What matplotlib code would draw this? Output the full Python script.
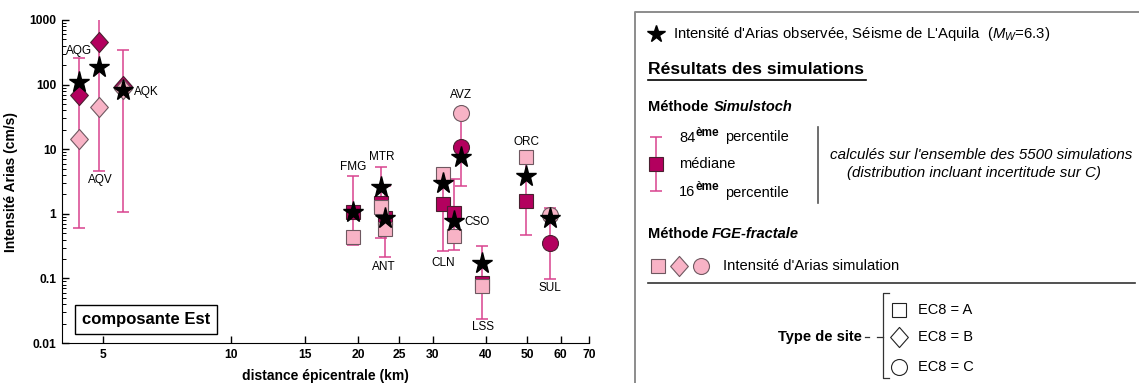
import numpy as np
import matplotlib
matplotlib.use('Agg')
import matplotlib.pyplot as plt
from matplotlib.path import Path
from matplotlib.ticker import FixedLocator, NullFormatter, NullLocator, LogLocator

plt.rcParams['font.family'] = ['Liberation Sans', 'DejaVu Sans']
plt.rcParams['mathtext.fontset'] = 'custom'
plt.rcParams['mathtext.rm'] = 'Liberation Sans'
plt.rcParams['mathtext.it'] = 'Liberation Sans:italic'
plt.rcParams['mathtext.bf'] = 'Liberation Sans:bold'

# stations of the L'Aquila event, east component
stations = ['AQG', 'AQV', 'AQK', 'FMG', 'MTR', 'ANT', 'CLN', 'CSO', 'AVZ', 'LSS', 'ORC', 'SUL']
site_class = ['B', 'B', 'B', 'A', 'A', 'A', 'A', 'A', 'C', 'A', 'A', 'C']
distance = [4.38, 4.89, 5.57, 19.4, 22.65, 23.07, 31.6, 33.6, 35.0, 39.2, 49.6, 56.6]
observed = [109, 189, 82, 1.08, 2.62, 0.85, 2.97, 0.78, 7.65, 0.175, 3.89, 0.85]
stoch_median = [69, 461, 95, 1.05, 1.46, 0.85, 1.41, 1.04, 10.7, 0.084, 1.60, 0.35]
stoch_p84 = [261, 1300, 340, 3.85, 5.36, 2.69, 4.9, 3.42, 40, 0.318, 6.5, 1.22]
stoch_p16 = [0.61, 4.6, 1.05, 0.325, 0.42, 0.217, 0.27, 0.28, 2.72, 0.0235, 0.465, 0.097]
fge_fractal = [14.4, 45.5, 86, 0.44, 1.29, 0.575, 4.1, 0.45, 36.7, 0.076, 7.5, 0.96]

x_ticks = [5, 10, 15, 20, 25, 30, 40, 50, 60, 70]
y_ticks = [0.01, 0.1, 1, 10, 100, 1000]
y_ticklabels = ['0.01', '0.1', '1', '10', '100', '1000']

# where each station name goes (anchor + offset in points)
label_anchor = ['p84', 'p16', 'obs', 'p84', 'p84', 'p16', 'p16', 'obs', 'fge', 'p16', 'fge', 'p16']
label_offset = [(0, 5), (0.9, -6.5), (17, -1.4), (0, 6.5), (0.7, 6.8), (-0.7, -7.2),
                (0.4, -9.1), (17, -0.7), (0, 12.7), (0.2, -5.8), (0.7, 10.8), (0, -6.5)]

DARK = '#B3005E'
PINK = '#F8B3C6'
BAR = '#D8428E'

diamond = Path([(0, 1), (0.88, 0), (0, -1), (-0.88, 0), (0, 1)],
               [Path.MOVETO, Path.LINETO, Path.LINETO, Path.LINETO, Path.CLOSEPOLY])
markers = {'A': ('s', 10), 'B': (diamond, 14.5), 'C': ('o', 11.5)}

fig = plt.figure(figsize=(11.39, 3.83), dpi=100)
ax = fig.add_axes([62 / 1139, 40 / 383, 527 / 1139, 323 / 383])
ax.set_xscale('log')
ax.set_yscale('log')

d = np.array(distance)
med = np.array(stoch_median)
hi = np.array(stoch_p84)
lo = np.array(stoch_p16)

ax.errorbar(d, med, yerr=[med - lo, hi - med], fmt='none', ecolor=BAR,
            elinewidth=1.1, capsize=4.5, capthick=1.1, zorder=2)
for i in range(len(stations)):
    m, ms = markers[site_class[i]]
    ax.plot(d[i], med[i], marker=m, ms=ms, mfc=DARK, mec='#4a2030', mew=0.8, ls='none', zorder=3)
for i in range(len(stations)):
    m, ms = markers[site_class[i]]
    ax.plot(d[i], fge_fractal[i], marker=m, ms=ms, mfc=PINK, mec='#6e5860', mew=0.8, ls='none', zorder=4)
ax.plot(d, observed, '*', ms=15.5, color='black', ls='none', zorder=5)

anchors = {'p84': hi, 'p16': lo, 'obs': np.array(observed), 'fge': np.array(fge_fractal), 'med': med}
for i, name in enumerate(stations):
    ax.annotate(name, (d[i], anchors[label_anchor[i]][i]), xytext=label_offset[i],
                textcoords='offset points', ha='center', va='center', fontsize=8.5)

ax.set_xlim(4, 70)
ax.set_ylim(0.01, 1000)
ax.xaxis.set_major_locator(FixedLocator(x_ticks))
ax.xaxis.set_minor_locator(NullLocator())
ax.set_xticklabels([str(t) for t in x_ticks])
ax.yaxis.set_major_locator(FixedLocator(y_ticks))
ax.set_yticklabels(y_ticklabels)
ax.yaxis.set_minor_locator(LogLocator(base=10, subs=np.arange(2, 10)))
ax.yaxis.set_minor_formatter(NullFormatter())
ax.tick_params(which='major', direction='in', length=5, width=1, labelsize=8.7, pad=4)
ax.tick_params(which='minor', direction='in', length=3, width=0.7)
for lab in ax.get_xticklabels() + ax.get_yticklabels():
    lab.set_fontweight('bold')
ax.spines['top'].set_visible(False)
ax.spines['right'].set_visible(False)
ax.set_xlabel('distance épicentrale (km)', fontsize=10, fontweight='bold', labelpad=6)
ax.set_ylabel('Intensité Arias (cm/s)', fontsize=10, fontweight='bold', labelpad=8)

ax.text(0.160, 0.0743, 'composante Est', transform=ax.transAxes, ha='center', va='center',
        fontsize=12, fontweight='bold',
        bbox=dict(boxstyle='square,pad=0.42', fc='white', ec='black', lw=1))

# legend panel, drawn in figure pixels
ov = fig.add_axes([0, 0, 1, 1])
ov.set_xlim(0, 1139)
ov.set_ylim(383, 0)
ov.axis('off')

ov.plot([634.5, 634.5, 1139], [383, 12.3, 12.3], color='#8c8c8c', lw=1.4)

ov.plot(656, 34, '*', ms=13, color='black')
ov.text(673, 34, "Intensité d'Arias observée, Séisme de L'Aquila  ($M_W$=6.3)",
        va='center', fontsize=10.7)

ov.text(648, 69, 'Résultats des simulations', va='center', fontsize=12.6, fontweight='bold')
ov.plot([648, 866], [79.5, 79.5], color='black', lw=1.2)

ov.text(648, 107, 'Méthode', va='center', fontsize=10.5, fontweight='bold')
ov.text(714, 107, 'Simulstoch', va='center', fontsize=10.5, fontweight='bold', style='italic')

ov.errorbar([656], [164], yerr=[[27], [27]], fmt='none', ecolor=BAR, elinewidth=1.1,
            capsize=4.5, capthick=1.1)
ov.plot(656, 164, 's', ms=10, mfc=DARK, mec='#4a2030', mew=0.8)
for yy, num in [(137.5, '84'), (192.5, '16')]:
    ov.text(679, yy, num, va='center', fontsize=10.5)
    ov.text(695, yy - 5, 'ème', va='center', fontsize=8.5, fontweight='bold')
    ov.text(725, yy, 'percentile', va='center', fontsize=10.5)
ov.text(679, 164.5, 'médiane', va='center', fontsize=10.5)
ov.plot([818, 818], [127, 203], color='#555555', lw=1.2)
ov.text(981, 155, "calculés sur l'ensemble des 5500 simulations", ha='center', va='center',
        fontsize=10.9, style='italic')
ov.text(974, 173.5, '(distribution incluant incertitude sur C)', ha='center', va='center',
        fontsize=10.9, style='italic')

ov.text(648, 234, 'Méthode', va='center', fontsize=10.5, fontweight='bold')
ov.text(712, 234, 'FGE-fractale', va='center', fontsize=10.5, fontweight='bold', style='italic')
for xx, (m, ms) in zip([658, 679, 701], [markers['A'], markers['B'], markers['C']]):
    ov.plot(xx, 266, marker=m, ms=ms, mfc=PINK, mec='#6e5860', mew=0.8)
ov.text(723, 266.5, "Intensité d'Arias simulation", va='center', fontsize=10.6)
ov.plot([648, 1135], [283, 283], color='#333333', lw=1.2)

ov.text(820, 337, 'Type de site', ha='center', va='center', fontsize=10.5, fontweight='bold')
ov.plot([865, 869], [337, 337], color='#333333', lw=0.9)
ov.plot([889, 883, 883, 889], [293, 293, 378, 378], color='#333333', lw=0.9)
ov.plot([877, 883], [337, 337], color='#333333', lw=0.9)
for yy, (m, ms), txt in zip([309.5, 337, 367], [markers['A'], markers['B'], markers['C']],
                            ['EC8 = A', 'EC8 = B', 'EC8 = C']):
    ov.plot(899, yy, marker=m, ms=ms, mfc='white', mec='#222222', mew=0.8)
    ov.text(918, yy, txt, va='center', fontsize=10.5)

fig.savefig('out.png', dpi=100)
